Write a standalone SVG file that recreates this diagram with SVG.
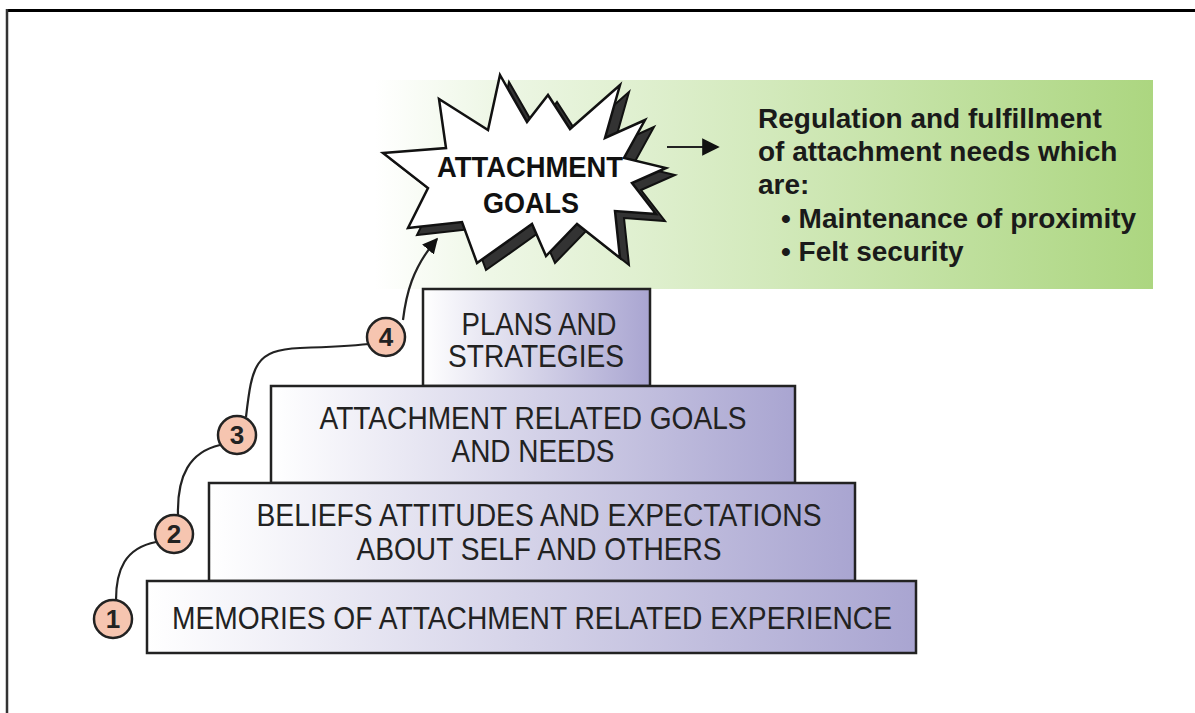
<svg xmlns="http://www.w3.org/2000/svg" width="1195" height="713" viewBox="0 0 1195 713">
<style>
.box{stroke:#222;stroke-width:2.5;fill:url(#boxg)}
.bt{font-family:"Liberation Sans",Arial,sans-serif;font-size:31px;fill:#222;text-anchor:middle}
.ct{font-family:"Liberation Sans",Arial,sans-serif;font-size:26px;font-weight:bold;fill:#222;text-anchor:middle}
.circ{fill:#f6c5b0;stroke:#222;stroke-width:2.5}
.gt{font-family:"Liberation Sans",Arial,sans-serif;font-size:28px;font-weight:bold;fill:#1a1a1a}
.st{font-family:"Liberation Sans",Arial,sans-serif;font-size:29px;font-weight:bold;fill:#111;text-anchor:middle}
.conn{fill:none;stroke:#222;stroke-width:2.2}
</style>
<defs>
<linearGradient id="boxg" x1="0" y1="0" x2="1" y2="0">
<stop offset="0" stop-color="#ffffff"/>
<stop offset="1" stop-color="#a9a5d1"/>
</linearGradient>
<linearGradient id="greeng" x1="0" y1="0" x2="1" y2="0">
<stop offset="0" stop-color="#ffffff"/>
<stop offset="0.15" stop-color="#eef7e6"/>
<stop offset="1" stop-color="#acd680"/>
</linearGradient>
<marker id="ah" viewBox="0 0 10 10" refX="9" refY="5" markerWidth="7" markerHeight="7" markerUnits="strokeWidth" orient="auto">
<path d="M0,0 L10,5 L0,10 Z" fill="#111"/>
</marker>
<marker id="ah2" viewBox="0 0 10 10" refX="9" refY="5" markerWidth="8" markerHeight="8" markerUnits="strokeWidth" orient="auto">
<path d="M0,0 L10,5 L0,10 Z" fill="#111"/>
</marker>
</defs>
<rect width="1195" height="713" fill="#ffffff"/>
<g id="frame">
<line x1="6" y1="10.5" x2="1195" y2="10.5" stroke="#000" stroke-width="3"/>
<line x1="7" y1="9" x2="7" y2="713" stroke="#333" stroke-width="2.5"/>
</g>
<g id="outcome">
<rect x="375" y="80" width="778" height="209" fill="url(#greeng)"/>
<text class="gt" x="758" y="128">Regulation and fulfillment</text>
<text class="gt" x="758" y="161">of attachment needs which</text>
<text class="gt" x="758" y="194">are:</text>
<text class="gt" x="781" y="228">• Maintenance of proximity</text>
<text class="gt" x="781" y="261">• Felt security</text>
</g>
<g id="attachment-goals">
<polygon transform="translate(9,7)" fill="#333" stroke="#111" stroke-width="2" stroke-linejoin="miter" points="500,75 527,122 548,95 570,129 620,85 605,138 645,120 624,158 666,168 632,183 656,214 615,211 620,258 577,224 546,256 532,224 477,263 462,222 408,228 428,188 383,153 446,148 439,99 488,130"/>
<polygon fill="#ffffff" stroke="#111" stroke-width="2.5" stroke-linejoin="miter" points="500,75 527,122 548,95 570,129 620,85 605,138 645,120 624,158 666,168 632,183 656,214 615,211 620,258 577,224 546,256 532,224 477,263 462,222 408,228 428,188 383,153 446,148 439,99 488,130"/>
<text class="st" x="530" y="177" textLength="186" lengthAdjust="spacingAndGlyphs">ATTACHMENT</text>
<text class="st" x="531" y="213" textLength="96" lengthAdjust="spacingAndGlyphs">GOALS</text>
</g>
<g id="level-4">
<rect class="box" x="423" y="289" width="227" height="97"/>
<text class="bt" x="539" y="335" textLength="155" lengthAdjust="spacingAndGlyphs">PLANS AND</text>
<text class="bt" x="536" y="367" textLength="176" lengthAdjust="spacingAndGlyphs">STRATEGIES</text>
</g>
<g id="level-3">
<rect class="box" x="271" y="386" width="524" height="97"/>
<text class="bt" x="533" y="429" textLength="427" lengthAdjust="spacingAndGlyphs">ATTACHMENT RELATED GOALS</text>
<text class="bt" x="533" y="462" textLength="163" lengthAdjust="spacingAndGlyphs">AND NEEDS</text>
</g>
<g id="level-2">
<rect class="box" x="209" y="483" width="646" height="98"/>
<text class="bt" x="539" y="526" textLength="565" lengthAdjust="spacingAndGlyphs">BELIEFS ATTITUDES AND EXPECTATIONS</text>
<text class="bt" x="539" y="560" textLength="365" lengthAdjust="spacingAndGlyphs">ABOUT SELF AND OTHERS</text>
</g>
<g id="level-1">
<rect class="box" x="147" y="581" width="769" height="72"/>
<text class="bt" x="532" y="629" textLength="720" lengthAdjust="spacingAndGlyphs">MEMORIES OF ATTACHMENT RELATED EXPERIENCE</text>
</g>
<g id="connectors">
<path class="conn" d="M116,600 C116,570 125,548 156,542"/>
<path class="conn" d="M178,515 C177,475 190,452 220,445"/>
<path class="conn" d="M246,417 C252,365 255,350 300,348 C330,347 350,346 369,344"/>
<path class="conn" d="M403,320 C406,295 412,268 437,239" marker-end="url(#ah)"/>
<line class="conn" x1="667" y1="147" x2="718" y2="147" marker-end="url(#ah2)"/>
</g>
<g id="step-1"><circle class="circ" cx="113" cy="619" r="19"/><text class="ct" x="113" y="628">1</text></g>
<g id="step-2"><circle class="circ" cx="174" cy="534" r="19"/><text class="ct" x="174" y="543">2</text></g>
<g id="step-3"><circle class="circ" cx="237" cy="435" r="19"/><text class="ct" x="237" y="444">3</text></g>
<g id="step-4"><circle class="circ" cx="386" cy="337" r="19"/><text class="ct" x="386" y="346">4</text></g>
</svg>
